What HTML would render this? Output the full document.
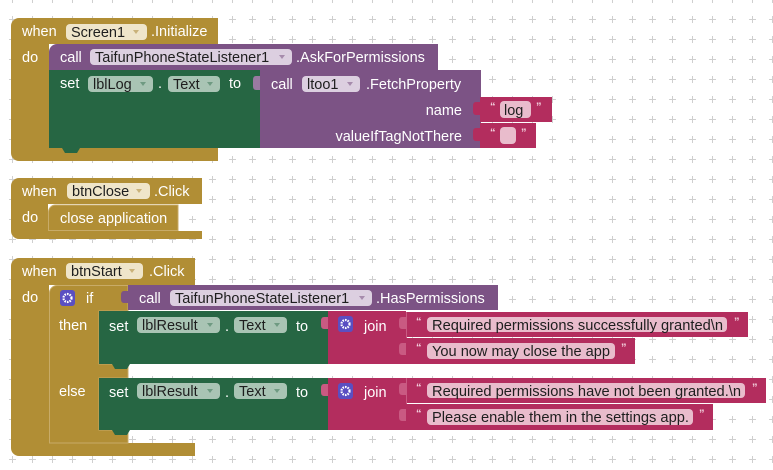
<!DOCTYPE html>
<html><head><meta charset="utf-8"><style>
html,body{margin:0;padding:0;background:#fff;}
svg{display:block;}
text{font-family:"Liberation Sans",Arial,sans-serif;font-size:14.5px;}
.w{fill:#fff;}
.d{fill:#1e1e1e;}
.q{fill:#f3d3df;font-size:11px;font-weight:bold;}
</style></head><body>
<svg width="773" height="470" viewBox="0 0 773 470" xmlns="http://www.w3.org/2000/svg">
<defs>
<pattern id="g" x="2" y="9" width="20" height="20" patternUnits="userSpaceOnUse">
<path d="M7,10.5H14M10.5,7V14" stroke="#cfcfcf" stroke-width="1"/>
</pattern>
</defs>
<rect width="773" height="470" fill="#fff"/>
<rect width="773" height="470" fill="url(#g)"/>

<!-- ===== Block 1 ===== -->
<path d="M11,26a8,8 0 0 1 8,-8H218V44H49V148H218V161H19a8,8 0 0 1 -8,-8Z" fill="#b18e35"/>
<text x="22" y="36" class="w">when</text>
<rect x="66" y="24" width="81" height="16" rx="4" fill="#efe5ca"/>
<text x="71" y="37" class="d">Screen1</text>
<path d="M133,30h6l-3,4z" fill="#c9b27a"/>
<text x="151" y="36" class="w">.Initialize</text>
<text x="22" y="62" class="w">do</text>

<path d="M49,52a8,8 0 0 1 8,-8H438V70H49Z" fill="#7c5385"/>
<text x="60" y="62" class="w">call</text>
<rect x="90" y="49" width="202" height="16" rx="4" fill="#dccfe0"/>
<text x="95" y="62" class="d">TaifunPhoneStateListener1</text>
<path d="M279,55h6l-3,4z" fill="#a68bac"/>
<text x="296" y="62" class="w">.AskForPermissions</text>

<rect x="49" y="70" width="214" height="78" fill="#266643"/>
<path d="M62,148h18l-3,5h-12z" fill="#266643"/>
<text x="60" y="88" class="w">set</text>
<rect x="88" y="76" width="65" height="16" rx="4" fill="#a9c4b4"/>
<text x="93" y="89" class="d">lblLog</text>
<path d="M140,82h6l-3,4z" fill="#6f9a82"/>
<text x="158" y="88" class="w">.</text>
<rect x="168" y="76" width="52" height="16" rx="4" fill="#a9c4b4"/>
<text x="173" y="89" class="d">Text</text>
<path d="M207,82h6l-3,4z" fill="#6f9a82"/>
<text x="229" y="88" class="w">to</text>

<rect x="260" y="70" width="221" height="78" fill="#7c5385"/>
<path d="M260,76h-4q-3,0 -3,4v6q0,4 3,4h4z" fill="#9a7aa2"/>
<text x="271" y="89" class="w">call</text>
<rect x="302" y="76" width="58" height="16" rx="4" fill="#dccfe0"/>
<text x="307" y="89" class="d">ltoo1</text>
<path d="M347,82h6l-3,4z" fill="#a68bac"/>
<text x="366" y="89" class="w">.FetchProperty</text>
<text x="462" y="115" class="w" text-anchor="end">name</text>
<text x="462" y="141" class="w" text-anchor="end">valueIfTagNotThere</text>

<rect x="480" y="97" width="72" height="25" fill="#b32d5e"/>
<path d="M481,102h-5q-3,0 -3,4v5q0,4 3,4h5z" fill="#b32d5e"/>
<text x="490" y="110" class="q">“</text>
<rect x="500" y="101" width="31" height="17" rx="4" fill="#e9bccc"/>
<text x="504" y="115" class="d">log</text>
<text x="536" y="110" class="q">”</text>

<rect x="480" y="123" width="56" height="25" fill="#b32d5e"/>
<path d="M481,128h-5q-3,0 -3,4v5q0,4 3,4h5z" fill="#b32d5e"/>
<text x="490" y="136" class="q">“</text>
<rect x="500" y="127" width="16" height="17" rx="4" fill="#e9bccc"/>
<text x="521" y="136" class="q">”</text>

<!-- ===== Block 2 ===== -->
<path d="M11,186a8,8 0 0 1 8,-8H202V204H48V231H202V239H19a8,8 0 0 1 -8,-8Z" fill="#b18e35"/>
<text x="22" y="196" class="w">when</text>
<rect x="67" y="183" width="83" height="16" rx="4" fill="#efe5ca"/>
<text x="72" y="196" class="d">btnClose</text>
<path d="M136,189h6l-3,4z" fill="#c9b27a"/>
<text x="154" y="196" class="w">.Click</text>
<text x="22" y="222" class="w">do</text>
<path d="M48.5,212a7,7 0 0 1 7,-7H178V230.5H48.5Z" fill="#b18e35" stroke="#c8ab68" stroke-width="1"/>
<text x="60" y="223" class="w">close application</text>

<!-- ===== Block 3 ===== -->
<path d="M11,266a8,8 0 0 1 8,-8H195V285H49V443H195V456H19a8,8 0 0 1 -8,-8Z" fill="#b18e35"/>
<text x="22" y="276" class="w">when</text>
<rect x="66" y="263" width="77" height="16" rx="4" fill="#efe5ca"/>
<text x="71" y="276" class="d">btnStart</text>
<path d="M129,269h6l-3,4z" fill="#c9b27a"/>
<text x="149" y="276" class="w">.Click</text>
<text x="22" y="302" class="w">do</text>

<path d="M49.5,293a7.5,7.5 0 0 1 7.5,-7.5H128V311H99V364H128V378H99V430H128V443H49.5Z" fill="#b18e35" stroke="#c8ab68" stroke-width="1"/>
<rect x="60" y="290" width="15" height="16" rx="3" fill="#5a4fc2"/>
<circle cx="67.5" cy="298" r="4" fill="none" stroke="#fff" stroke-width="2.2" stroke-dasharray="1.6 1"/>
<circle cx="67.5" cy="298" r="1.5" fill="#5a4fc2"/>
<text x="86" y="303" class="w">if</text>
<text x="59" y="330" class="w">then</text>
<text x="59" y="396" class="w">else</text>

<rect x="128" y="285" width="370" height="25" fill="#7c5385"/>
<path d="M128,291h-4q-3,0 -3,4v4q0,4 3,4h4z" fill="#7c5385"/>
<text x="139" y="303" class="w">call</text>
<rect x="170" y="290" width="202" height="16" rx="4" fill="#dccfe0"/>
<text x="175" y="303" class="d">TaifunPhoneStateListener1</text>
<path d="M359,296h6l-3,4z" fill="#a68bac"/>
<text x="376" y="303" class="w">.HasPermissions</text>

<!-- then -->
<rect x="99" y="311" width="232" height="53" fill="#266643"/>
<path d="M112,364h18l-3,5h-12z" fill="#266643"/>
<text x="109" y="331" class="w">set</text>
<rect x="137" y="317" width="83" height="16" rx="4" fill="#a9c4b4"/>
<text x="142" y="330" class="d">lblResult</text>
<path d="M207,323h6l-3,4z" fill="#6f9a82"/>
<text x="225" y="331" class="w">.</text>
<rect x="234" y="317" width="53" height="16" rx="4" fill="#a9c4b4"/>
<text x="239" y="330" class="d">Text</text>
<path d="M274,323h6l-3,4z" fill="#6f9a82"/>
<text x="296" y="331" class="w">to</text>

<rect x="328" y="311" width="78" height="53" fill="#b32d5e"/>
<path d="M328,317h-4q-3,0 -3,4v4q0,4 3,4h4z" fill="#c95a82"/>
<rect x="338" y="316" width="15" height="16" rx="3" fill="#5a4fc2"/>
<circle cx="345.5" cy="324" r="4" fill="none" stroke="#fff" stroke-width="2.2" stroke-dasharray="1.6 1"/>
<circle cx="345.5" cy="324" r="1.5" fill="#5a4fc2"/>
<text x="364" y="331" class="w">join</text>

<rect x="406" y="312" width="342" height="25" fill="#b32d5e"/>
<path d="M406,317h-4q-3,0 -3,4v4q0,4 3,4h4z" fill="#c95a82"/>
<line x1="406.5" y1="312" x2="406.5" y2="364" stroke="#c95a82"/>
<text x="416" y="325" class="q">“</text>
<rect x="427" y="317" width="300" height="15" rx="4" fill="#e9bccc"/>
<text x="432" y="330" class="d" textLength="291" lengthAdjust="spacingAndGlyphs">Required permissions successfully granted\n</text>
<text x="734" y="325" class="q">”</text>

<rect x="406" y="338" width="229" height="26" fill="#b32d5e"/>
<path d="M406,343h-4q-3,0 -3,4v4q0,4 3,4h4z" fill="#c95a82"/>
<text x="416" y="351" class="q">“</text>
<rect x="427" y="343" width="188" height="16" rx="4" fill="#e9bccc"/>
<text x="432" y="356" class="d" textLength="178" lengthAdjust="spacingAndGlyphs">You now may close the app</text>
<text x="621" y="351" class="q">”</text>

<!-- else -->
<rect x="99" y="378" width="232" height="52" fill="#266643"/>
<path d="M112,430h18l-3,5h-12z" fill="#266643"/>
<text x="109" y="397" class="w">set</text>
<rect x="137" y="383" width="83" height="16" rx="4" fill="#a9c4b4"/>
<text x="142" y="396" class="d">lblResult</text>
<path d="M207,389h6l-3,4z" fill="#6f9a82"/>
<text x="225" y="397" class="w">.</text>
<rect x="234" y="383" width="53" height="16" rx="4" fill="#a9c4b4"/>
<text x="239" y="396" class="d">Text</text>
<path d="M274,389h6l-3,4z" fill="#6f9a82"/>
<text x="296" y="397" class="w">to</text>

<rect x="328" y="378" width="78" height="52" fill="#b32d5e"/>
<path d="M328,384h-4q-3,0 -3,4v4q0,4 3,4h4z" fill="#c95a82"/>
<rect x="338" y="383" width="15" height="16" rx="3" fill="#5a4fc2"/>
<circle cx="345.5" cy="391" r="4" fill="none" stroke="#fff" stroke-width="2.2" stroke-dasharray="1.6 1"/>
<circle cx="345.5" cy="391" r="1.5" fill="#5a4fc2"/>
<text x="364" y="397" class="w">join</text>

<rect x="406" y="378" width="360" height="25" fill="#b32d5e"/>
<path d="M406,383h-4q-3,0 -3,4v4q0,4 3,4h4z" fill="#c95a82"/>
<line x1="406.5" y1="378" x2="406.5" y2="430" stroke="#c95a82"/>
<text x="416" y="391" class="q">“</text>
<rect x="427" y="383" width="318" height="15" rx="4" fill="#e9bccc"/>
<text x="432" y="396" class="d" textLength="309" lengthAdjust="spacingAndGlyphs">Required permissions have not been granted.\n</text>
<text x="752" y="391" class="q">”</text>

<rect x="406" y="404" width="307" height="26" fill="#b32d5e"/>
<path d="M406,409h-4q-3,0 -3,4v4q0,4 3,4h4z" fill="#c95a82"/>
<text x="416" y="417" class="q">“</text>
<rect x="427" y="409" width="266" height="16" rx="4" fill="#e9bccc"/>
<text x="432" y="422" class="d" textLength="257" lengthAdjust="spacingAndGlyphs">Please enable them in the settings app.</text>
<text x="699" y="417" class="q">”</text>
</svg>
</body></html>
